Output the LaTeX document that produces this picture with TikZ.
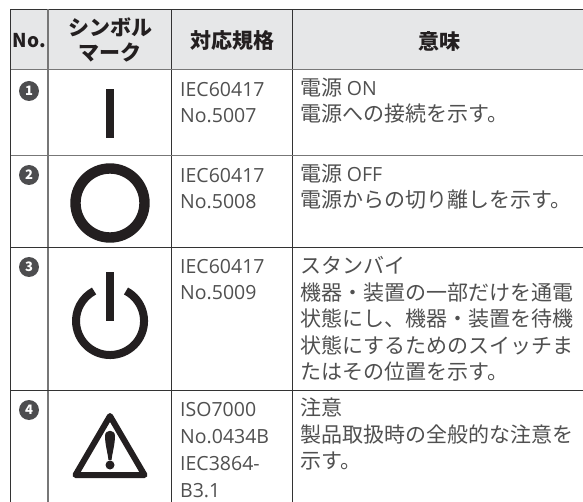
\documentclass[tikz,border=0pt]{standalone}
\usepackage{fontspec}
\setmainfont{Noto Sans CJK JP}
\newfontfamily\latinlight{Open Sans}
\newcommand{\Lt}[1]{{\latinlight\fontsize{19.5}{26.5}\selectfont #1}}
\definecolor{ink}{HTML}{231F20}
\definecolor{txt}{HTML}{505050}
\definecolor{head}{HTML}{E6E7E8}
\definecolor{rule}{HTML}{333333}
\definecolor{ruleg}{HTML}{777777}
\definecolor{bullet}{HTML}{4D4D4F}
\tikzset{
  hd/.style={font=\bfseries\fontsize{21}{25}\selectfont,text=ink,align=center,inner sep=0pt},
  tx/.style={font=\fontsize{21}{26.4}\selectfont,text=txt,anchor=base west,align=left,inner sep=0pt},
  ltx/.style={font=\latinlight\fontsize{19.5}{26.8}\selectfont,text=txt,anchor=base west,align=left,inner sep=0pt},
  num/.style={circle,fill=bullet,text=white,minimum size=20pt,inner sep=0pt,font=\bfseries\fontsize{13}{13}\selectfont},
  thinrule/.style={draw=rule,line width=0.9pt},
  grayrule/.style={draw=ruleg,line width=1.4pt},
  sym/.style={draw=ink}
}
\begin{document}
\begin{tikzpicture}[x=1pt,y=-1pt]
\useasboundingbox (0,0) rectangle (583,502);
\fill[white] (0,0) rectangle (583,502);
\fill[head] (10.5,9.5) rectangle (583,69.5);
% rules
\draw[thinrule] (10.5,502) -- (10.5,9.5) -- (583,9.5);
\draw[thinrule] (171.5,9.5) -- (171.5,502);
\draw[thinrule] (292.5,9.5) -- (292.5,502);
\draw[grayrule] (48,9.5) -- (48,502);
\draw[grayrule] (10.5,69.5) -- (583,69.5);
\draw[grayrule] (10.5,155.5) -- (583,155.5);
\draw[thinrule] (10.5,247) -- (583,247);
\draw[thinrule] (10.5,390.5) -- (583,390.5);
% header
\node[hd,font=\bfseries\fontsize{19}{22}\selectfont] (hno) at (29.5,41) {No.};
\node[hd] (hsym) at (110,39.5) {シンボル\\マーク};
\node[hd] (hstd) at (232,41) {対応規格};
\node[hd] (hmean) at (439,41) {意味};
% numbers
\node[num] (n1) at (29,91) {1};
\node[num] (n2) at (29,175) {2};
\node[num] (n3) at (29,267) {3};
\node[num] (n4) at (29,410) {4};
% standards (the base anchor is on the last line)
\node[ltx] (s1) at (180,123) {IEC60417\\No.5007};
\node[ltx] (s2) at (180,209) {IEC60417\\No.5008};
\node[ltx] (s3) at (180,300) {IEC60417\\No.5009};
\node[ltx] (s4) at (180,497) {ISO7000\\No.0434B\\IEC3864-\\B3.1};
% meanings
\node[tx] (m1) at (300,122) {電源 \Lt{ON}\\電源への接続を示す。};
\node[tx] (m2) at (300,207.5) {電源 \Lt{OFF}\\電源からの切り離しを示す。};
\node[tx] (m3) at (300,379.5) {スタンバイ\\機器・装置の一部だけを通電\\状態にし、機器・装置を待機\\状態にするためのスイッチま\\たはその位置を示す。};
\node[tx] (m4) at (300,468.5) {注意\\製品取扱時の全般的な注意を\\示す。};
% symbols
\fill[ink] (106,89) rectangle (114,138);
\draw[sym,line width=10.4pt] (110,203) circle[radius=34.5];
\fill[ink] (106,272) rectangle (114,321);
\draw[sym,line width=8pt] (126,291) arc[start angle=-62,end angle=242,radius=34];
\draw[sym,line width=6pt,line join=round] (110,416) -- (144.5,475) -- (75.5,475) -- cycle;
\fill[ink] (105,436) .. controls (105,429) and (115,429) .. (115,436) .. controls (115,444) and (112.5,452) .. (111.5,460) -- (108.5,460) .. controls (107.5,452) and (105,444) .. (105,436) -- cycle;
\fill[ink] (110,465) circle[radius=4.5];
\end{tikzpicture}
\end{document}
